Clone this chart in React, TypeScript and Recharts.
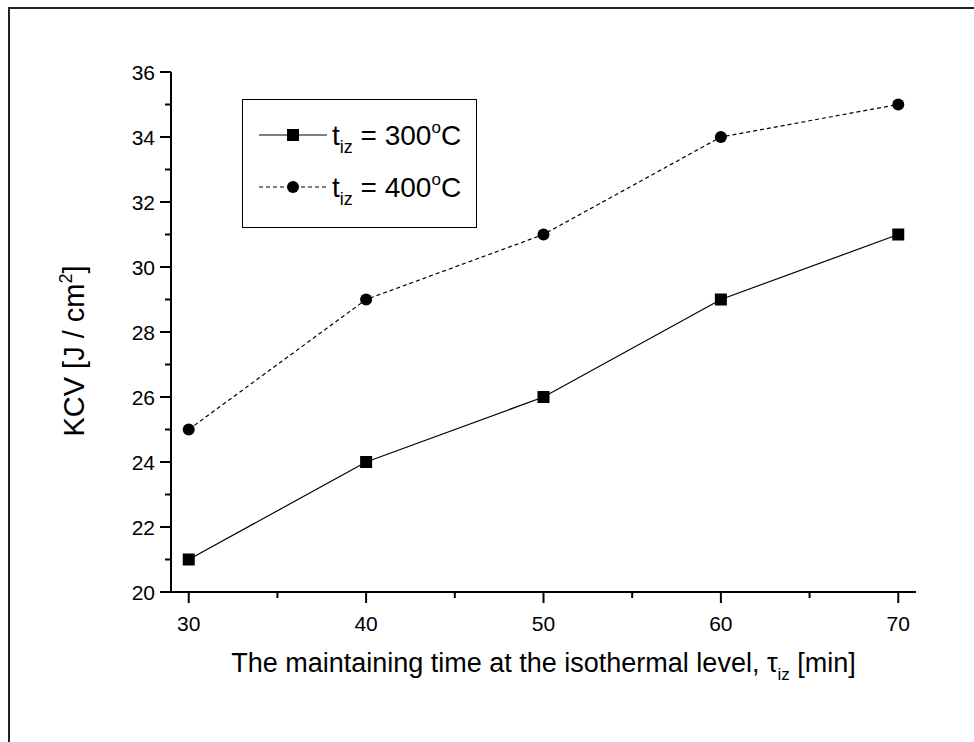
import React from 'react'
import { LineChart, Line, XAxis, YAxis } from 'recharts'

const times = [30, 40, 50, 60, 70]
const kcv300 = [21, 24, 26, 29, 31]
const kcv400 = [25, 29, 31, 34, 35]
const xTicks = [30, 35, 40, 45, 50, 55, 60, 65, 70]
const yTicks = [20, 21, 22, 23, 24, 25, 26, 27, 28, 29, 30, 31, 32, 33, 34, 35, 36]
const seriesNames = ['300', '400']

const data = times.map((t, i) => ({ t, s300: kcv300[i], s400: kcv400[i] }))

const FONT = 'Arial, "Liberation Sans", sans-serif'

const YTick = ({ x, y, payload }: any) => {
  const major = payload.value % 2 === 0
  return (
    <g>
      <line x1={x - (major ? 11 : 6)} x2={x} y1={y} y2={y} stroke="#000" strokeWidth={2} />
      {major && (
        <text x={x - 16} y={y + 7.5} textAnchor="end" fontSize={21} fontFamily={FONT} fill="#000">
          {payload.value}
        </text>
      )}
    </g>
  )
}

const XTick = ({ x, y, payload }: any) => {
  const major = payload.value % 10 === 0
  return (
    <g>
      <line x1={x} x2={x} y1={y} y2={y + (major ? 11 : 6)} stroke="#000" strokeWidth={2} />
      {major && (
        <text x={x} y={y + 39} textAnchor="middle" fontSize={21} fontFamily={FONT} fill="#000">
          {payload.value}
        </text>
      )}
    </g>
  )
}

const SquareDot = ({ cx, cy }: any) => (
  <rect x={cx - 6} y={cy - 6} width={12} height={12} fill="#000" />
)

const YLabel = ({ viewBox }: any) => {
  const cx = 84
  const cy = viewBox.y + viewBox.height / 2 + 19
  return (
    <text x={cx} y={cy} transform={`rotate(-90 ${cx} ${cy})`} textAnchor="middle" fontSize={29} fontFamily={FONT} fill="#000">
      KCV [J / cm<tspan dy={-12} fontSize={18}>2</tspan><tspan dy={12}>]</tspan>
    </text>
  )
}

const XLabel = ({ viewBox }: any) => {
  const cx = viewBox.x + viewBox.width / 2
  return (
    <text x={cx} y={672} textAnchor="middle" fontSize={27} fontFamily={FONT} fill="#000">
      The maintaining time at the isothermal level, τ<tspan dy={8} fontSize={17}>iz</tspan>
      <tspan dy={-8}> [min]</tspan>
    </text>
  )
}

const LegendBox = () => (
  <div style={{ position: 'absolute', left: 242, top: 99, width: 235, height: 129, border: '1.5px solid #000', boxSizing: 'border-box', background: '#fff' }}>
    <svg width={235} height={129} style={{ position: 'absolute', left: -1.5, top: -1.5 }}>
      {seriesNames.map((name, i) => {
        const cy = 36 + i * 52
        return (
          <g key={name}>
            <line x1={17} x2={85} y1={cy} y2={cy} stroke="#000" strokeWidth={1} strokeDasharray={i === 0 ? undefined : '4 3'} />
            {i === 0 ? (
              <rect x={45} y={cy - 6} width={12} height={12} fill="#000" />
            ) : (
              <circle cx={51} cy={cy} r={6} fill="#000" />
            )}
            <text x={90} y={cy + 10} fontSize={28} fontFamily={FONT} fill="#000">
              t<tspan dy={8} fontSize={18}>iz</tspan>
              <tspan dy={-8}> = {name}</tspan>
              <tspan dy={-12} fontSize={17}>o</tspan>
              <tspan dy={12}>C</tspan>
            </text>
          </g>
        )
      })}
    </svg>
  </div>
)

export default function App() {
  return (
    <div style={{ position: 'absolute', left: 0, top: 0, width: 974, height: 742, overflow: 'hidden', background: '#fff' }}>
      <div style={{ position: 'absolute', left: 8, top: 7, width: 1000, height: 800, border: '2px solid #222' }} />
      <div style={{ position: 'absolute', left: 0, top: 0 }}>
        <LineChart width={974} height={742} data={data} margin={{ top: 72, right: 58, bottom: 0, left: 0 }}>
          <XAxis
            dataKey="t"
            type="number"
            domain={[29, 71]}
            ticks={xTicks}
            interval={0}
            height={150}
            tickSize={0}
            tickMargin={0}
            axisLine={{ stroke: '#000', strokeWidth: 2 }}
            tick={<XTick />}
            label={<XLabel />}
          />
          <YAxis
            type="number"
            domain={[20, 36]}
            ticks={yTicks}
            interval={0}
            width={171}
            tickSize={0}
            tickMargin={0}
            axisLine={{ stroke: '#000', strokeWidth: 2 }}
            tick={<YTick />}
            label={<YLabel />}
          />
          <Line dataKey="s300" stroke="#000" strokeWidth={1.2} dot={<SquareDot />} activeDot={false} isAnimationActive={false} />
          <Line dataKey="s400" stroke="#000" strokeWidth={1.2} strokeDasharray="4 3" dot={{ r: 6, fill: '#000', stroke: 'none' }} activeDot={false} isAnimationActive={false} />
        </LineChart>
      </div>
      <LegendBox />
    </div>
  )
}
